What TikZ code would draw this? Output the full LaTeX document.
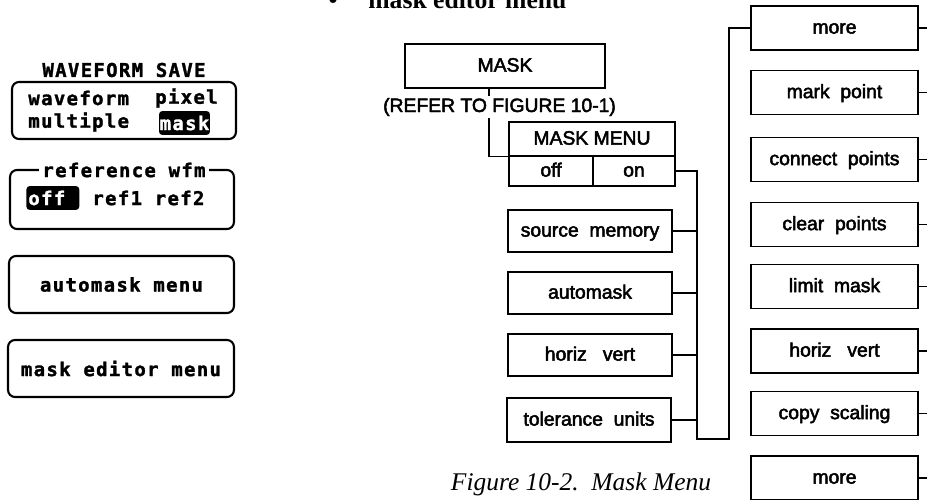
\documentclass[tikz,border=0pt]{standalone}
\usepackage{fontspec}
\setmainfont{Liberation Serif}
\newfontfamily\menufont[FakeBold=2.5]{Liberation Sans}
\newfontfamily\lcdfont[LetterSpace=7,FakeBold=1.5]{DejaVu Sans Mono}

\begin{document}
\begin{tikzpicture}[x=0.02cm,y=-0.02cm]
      \tikzstyle{every node}=[font=\menufont\fontsize{11}{13}\selectfont]
      \tikzstyle{lcdtext}=[font=\lcdfont\bfseries\fontsize{10.8}{12}\selectfont, inner sep=0pt]
      \tikzstyle{lcdbox}=[draw, line width=1.2pt, rounded corners=4pt, minimum width=4.5cm, minimum height=1.14cm, lcdtext]
      \tikzstyle{hilite}=[lcdtext, fill=black, text=white, rounded corners=2pt, minimum height=0.48cm]
      \tikzstyle{menubox}=[draw, line width=0.9pt, minimum width=3.28cm, minimum height=0.84cm, inner sep=0pt, text height=0.72em, text depth=0.08em]
      \tikzstyle{softkey}=[menubox, minimum width=3.34cm, minimum height=0.88cm]
      \tikzstyle{wire}=[line width=0.7pt]

      \useasboundingbox (0,0) rectangle (927,500);

      \node[font=\rmfamily\bfseries\fontsize{14.6}{16}\selectfont, anchor=base, inner sep=0pt] (bullet) at (333,9) {\textbullet};
      \node[font=\rmfamily\bfseries\fontsize{14.6}{16}\selectfont, anchor=base west, inner sep=0pt] (title) at (368,9) {mask editor menu};

      \node[lcdtext] (wsave) at (124,70) {WAVEFORM SAVE};
      \node[lcdbox, minimum width=4.48cm] (savebox) at (124,110.5) {};
      \node[lcdtext, anchor=west] (wform) at (28,98) {waveform};
      \node[lcdtext, anchor=east] (pixel) at (218,98) {pixel};
      \node[lcdtext, anchor=west] (multi) at (28,122) {multiple};
      \node[hilite, minimum width=1.02cm] (masksel) at (184.5,123) {mask};

      \node[lcdbox, minimum width=4.48cm, minimum height=1.18cm] (refbox) at (122,199.5) {};
      \node[lcdtext, fill=white, inner xsep=2pt] (reftitle) at (124,170) {reference wfm};
      \node[hilite, anchor=west, minimum width=1.06cm, text width=0.98cm, align=left] (offsel) at (26,198) {off};
      \node[lcdtext, anchor=west] (refs) at (92,198) {ref1 ref2};

      \node[lcdbox] (automenu) at (121.5,284.5) {automask menu};
      \node[lcdbox, minimum width=4.52cm] (editmenu) at (121,368.5) {mask editor menu};

      \node[menubox, minimum width=4cm, minimum height=0.88cm] (mask) at (505,66) {MASK};
      \node[menubox, minimum width=3.32cm, minimum height=0.68cm] (menu) at (592,139) {MASK MENU};
      \node[menubox, minimum width=1.68cm, minimum height=0.6cm] (off) at (551,171) {off};
      \node[menubox, minimum width=1.64cm, minimum height=0.6cm] (on) at (634,171) {on};

      \node[menubox] (srcmem) at (590,231) {source\ \ memory};
      \node[menubox] (automask) at (590,293) {automask};
      \node[menubox] (hvleft) at (590,355) {horiz\ \ \ vert};
      \node[menubox, minimum height=0.88cm] (tolunits) at (589,420) {tolerance\ \ units};

      \node[softkey] (more1) at (834.5,28) {more};
      \node[softkey] (markpt) at (834.5,92.5) {mark\ \ point};
      \node[softkey] (connpts) at (834.5,159.5) {connect\ \ points};
      \node[softkey] (clrpts) at (834.5,224.5) {clear\ \ points};
      \node[softkey] (limmask) at (834.5,286.5) {limit\ \ mask};
      \node[softkey] (hvright) at (834.5,351) {horiz\ \ \ vert};
      \node[softkey] (copysc) at (834.5,413.5) {copy\ \ scaling};
      \node[softkey] (more2) at (834.5,478) {more};

      \coordinate (maskTap) at (489,88);
      \coordinate (busL) at (697,439);
      \coordinate (busR) at (729,439);
      \coordinate (edge) at (935,0);

      \draw[wire] (maskTap) |- (menu.south west);
      \node[fill=white, inner sep=1pt] (refer) at (499.5,107) {(REFER TO FIGURE 10-1)};

      \draw[wire] (on.east) -| (busL) -- (busR) |- (more1.west);
      \foreach \n in {srcmem,automask,hvleft,tolunits}
          \draw[wire] (\n.east) -- (\n.east -| busL);
      \foreach \n in {more1,markpt,connpts,clrpts,limmask,hvright,copysc,more2}
          \draw[wire] (\n.east) -- (\n.east -| edge);

      \node[font=\rmfamily\itshape\fontsize{14.5}{16}\selectfont, anchor=base] (caption) at (581,490) {Figure 10-2.\ \ Mask Menu};

\end{tikzpicture}
\end{document}
